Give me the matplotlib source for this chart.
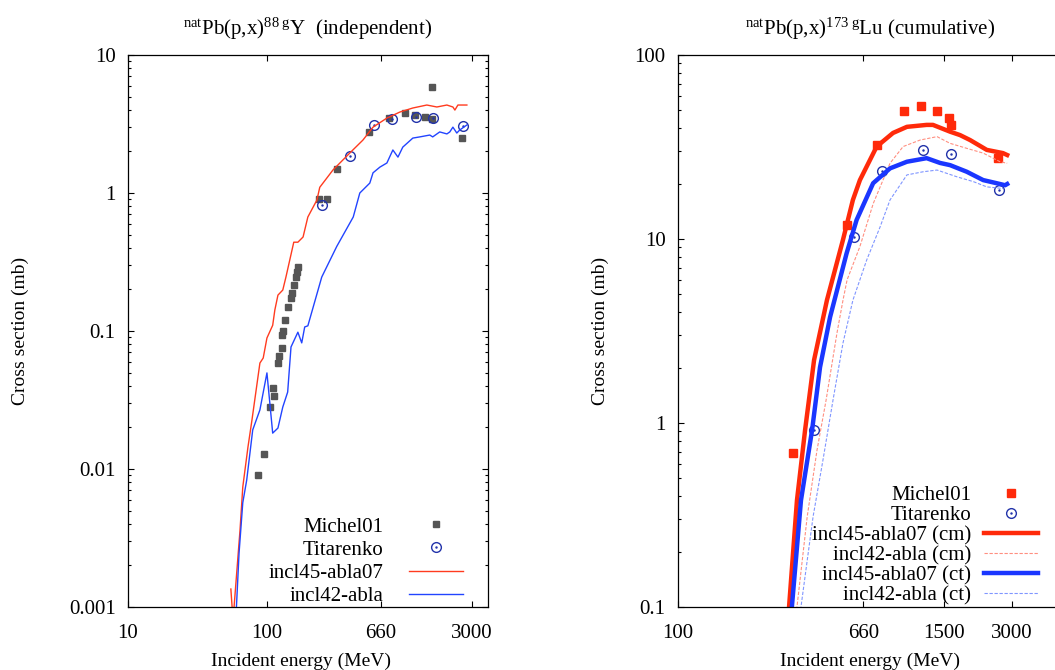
import matplotlib
matplotlib.use("Agg")
import matplotlib.pyplot as plt
from matplotlib.ticker import FixedLocator, FixedFormatter, NullLocator, LogLocator

plt.rcParams['font.family'] = 'Liberation Serif'
plt.rcParams['mathtext.fontset'] = 'custom'
plt.rcParams['mathtext.rm'] = 'Liberation Serif'
plt.rcParams['mathtext.it'] = 'Liberation Serif:italic'

#### LEFT PANEL DATA: natPb(p,x)88gY (independent)
michel_E_L = [86, 95, 105, 110, 112, 120, 122, 128, 128, 130, 135, 141, 149, 151, 156, 161, 164, 167,
              236, 270, 317, 541, 755, 982, 1160, 1370, 1540, 1540, 2530]
michel_v_L = [0.0090, 0.0129, 0.0281, 0.0386, 0.0338, 0.0586, 0.066, 0.075, 0.094, 0.10, 0.12, 0.149,
              0.173, 0.188, 0.215, 0.246, 0.268, 0.29, 0.906, 0.906, 1.49, 2.77, 3.49, 3.8, 3.67, 3.55,
              3.44, 5.86, 2.5]
tit_E_L = [249, 395, 589, 793, 1180, 1565, 2570]
tit_v_L = [0.82, 1.85, 3.11, 3.44, 3.55, 3.49, 3.06]

incl45_E_L = [55, 57, 64, 67, 73, 78, 89, 94, 100, 110, 114, 120, 130, 137, 156, 167, 182, 197, 229,
              240, 299, 395, 491, 580, 730, 905, 1122, 1415, 1671, 1973, 2180, 2253, 2368, 2748]
incl45_v_L = [0.00135, 0.0008, 0.0036, 0.0074, 0.0144, 0.0226, 0.0586, 0.0637, 0.089, 0.110, 0.142,
              0.182, 0.198, 0.246, 0.44, 0.44, 0.48, 0.67, 0.89, 1.10, 1.47, 1.95, 2.42, 3.0, 3.49,
              3.86, 4.13, 4.34, 4.2, 4.34, 4.2, 3.99, 4.34, 4.34]
incl42_E_L = [60, 63, 67, 71.5, 79, 89, 100, 110, 120, 130, 141, 149, 167, 178, 187, 197, 248, 318,
              418, 466, 550, 580, 650, 730, 806, 877, 950, 1122, 1260, 1486, 1560, 1752, 1973, 2070,
              2180, 2325, 2440, 2748]
incl42_v_L = [0.0009, 0.00246, 0.0057, 0.0083, 0.0192, 0.0268, 0.0497, 0.0182, 0.0198, 0.0281, 0.0361,
              0.0766, 0.098, 0.082, 0.107, 0.109, 0.246, 0.41, 0.67, 1.0, 1.18, 1.40, 1.54, 1.65, 2.05,
              1.82, 2.15, 2.5, 2.55, 2.63, 2.55, 2.77, 2.68, 2.77, 3.0, 2.72, 2.86, 3.11]

#### RIGHT PANEL DATA: natPb(p,x)173gLu (cumulative)
michel_E_R = [323, 560, 760, 1000, 1189, 1400, 1581, 1615, 2606]
michel_v_R = [0.687, 11.9, 32.4, 49.6, 52.8, 49.6, 45.5, 41.7, 27.5]
tit_E_R = [400, 601, 800, 1213, 1615, 2630]
tit_v_R = [0.916, 10.3, 23.5, 30.5, 29.0, 18.5]

incl45_cm_E = [305, 310, 336, 365, 400, 456, 537, 594, 638, 757, 894, 1030, 1259, 1343, 1599, 1770,
               1960, 2323, 2740, 2860]
incl45_cm_v = [0.076, 0.1, 0.38, 0.916, 2.2, 4.65, 9.9, 16.3, 20.9, 31.8, 37.7, 40.7, 41.7, 41.7, 38.3,
               36.7, 34.5, 30.5, 29.3, 28.6]
incl42_cm_E = [330, 336, 373, 412, 452, 505, 537, 560, 638, 731, 867, 991, 1178, 1400, 1599, 1895,
               2240, 2660, 2860]
incl42_cm_v = [0.08, 0.1, 0.31, 0.71, 1.33, 3.08, 4.65, 6.0, 9.1, 15.6, 25.8, 31.8, 34.5, 36.0, 33.1,
               31.1, 29.3, 26.3, 25.8]
incl45_ct_E = [314, 319, 350, 392, 425, 471, 557, 617, 730, 867, 1030, 1259, 1444, 1599, 1895, 2240,
               2570, 2800, 2860]
incl45_ct_v = [0.079, 0.1, 0.38, 0.916, 2.01, 3.77, 8.35, 12.7, 20.1, 24.2, 26.3, 27.5, 25.9, 25.2,
               23.2, 20.9, 20.1, 19.6, 19.9]
incl42_ct_E = [344, 350, 396, 438, 485, 537, 594, 684, 783, 867, 1030, 1216, 1400, 1710, 2027, 2323,
               2750]
incl42_ct_v = [0.08, 0.1, 0.31, 0.63, 1.33, 2.72, 4.65, 7.7, 11.6, 16.3, 22.3, 23.2, 23.7, 21.8, 20.5,
               19.2, 18.8]

red = '#ff2a0a'
blue = '#1a36ff'
gray = '#555555'
tit_col = '#2233aa'

fig = plt.figure(figsize=(10.55, 6.7), dpi=100)
ax1 = fig.add_axes([128 / 1055, 63 / 670, 360 / 1055, 552 / 670])
ax2 = fig.add_axes([678 / 1055, 63 / 670, 384 / 1055, 552 / 670])


def titarenko(ax, E, v):
    c, = ax.plot(E, v, 'o', ms=7, mfc='none', mec=tit_col, mew=1.0, ls='none')
    d, = ax.plot(E, v, '.', ms=1.5, color=tit_col, ls='none')
    return (c, d)


#### 1. LEFT PANEL
h1, = ax1.plot(michel_E_L, michel_v_L, 's', ms=5, color=gray, ls='none')
h2 = titarenko(ax1, tit_E_L, tit_v_L)
h3, = ax1.plot(incl45_E_L, incl45_v_L, color='#ff3b1f', lw=1.0)
h4, = ax1.plot(incl42_E_L, incl42_v_L, color='#2244ff', lw=1.0)

ax1.set_xscale('log')
ax1.set_yscale('log')
ax1.set_xlim(10, 3900)
ax1.set_ylim(0.001, 10)
ax1.xaxis.set_major_locator(FixedLocator([10, 100, 660, 3000]))
ax1.xaxis.set_major_formatter(FixedFormatter(['10', '100', '660', '3000']))
ax1.xaxis.set_minor_locator(NullLocator())
ax1.yaxis.set_major_locator(FixedLocator([0.001, 0.01, 0.1, 1, 10]))
ax1.yaxis.set_major_formatter(FixedFormatter(['0.001', '0.01', '0.1', '1', '10']))
ax1.yaxis.set_minor_locator(LogLocator(base=10, subs=range(2, 10)))
ax1.set_title(r'$^{\mathrm{nat}}$Pb(p,x)$^{88\ \mathrm{g}}$Y  (independent)', fontsize=15, y=1.036, pad=0)
ax1.set_xlabel('Incident energy (MeV)', fontsize=14)
ax1.set_ylabel('Cross section (mb)', fontsize=14)
ax1.xaxis.set_label_coords(0.48, -0.082)
ax1.yaxis.set_label_coords(-0.275, 0.5)
ax1.legend([h1, h2, h3, h4], ['Michel01', 'Titarenko', 'incl45-abla07', 'incl42-abla'],
           loc='lower right', bbox_to_anchor=(463 / 1055, 64 / 670), bbox_transform=fig.transFigure,
           frameon=False, markerfirst=False, fontsize=15, handlelength=2.6, handletextpad=1.2,
           labelspacing=0.17, borderpad=0, borderaxespad=0)

#### 2. RIGHT PANEL
g1, = ax2.plot(michel_E_R, michel_v_R, 's', ms=5.5, color=red, ls='none')
g2 = titarenko(ax2, tit_E_R, tit_v_R)
g3, = ax2.plot(incl45_cm_E, incl45_cm_v, color=red, lw=3.2)
g4, = ax2.plot(incl42_cm_E, incl42_cm_v, color='#ff8f80', lw=0.8, ls=(0, (3, 1.5)))
g5, = ax2.plot(incl45_ct_E, incl45_ct_v, color=blue, lw=3.2)
g6, = ax2.plot(incl42_ct_E, incl42_ct_v, color='#8096ff', lw=0.8, ls=(0, (3, 1.5)))

ax2.set_xscale('log')
ax2.set_yscale('log')
ax2.set_xlim(100, 5000)
ax2.set_ylim(0.1, 100)
ax2.xaxis.set_major_locator(FixedLocator([100, 660, 1500, 3000]))
ax2.xaxis.set_major_formatter(FixedFormatter(['100', '660', '1500', '3000']))
ax2.xaxis.set_minor_locator(NullLocator())
ax2.yaxis.set_major_locator(FixedLocator([0.1, 1, 10, 100]))
ax2.yaxis.set_major_formatter(FixedFormatter(['0.1', '1', '10', '100']))
ax2.yaxis.set_minor_locator(LogLocator(base=10, subs=range(2, 10)))
ax2.set_title(r'$^{\mathrm{nat}}$Pb(p,x)$^{173\ \mathrm{g}}$Lu (cumulative)', fontsize=15, y=1.036, pad=0)
ax2.set_xlabel('Incident energy (MeV)', fontsize=14)
ax2.set_ylabel('Cross section (mb)', fontsize=14)
ax2.xaxis.set_label_coords(0.5, -0.082)
ax2.yaxis.set_label_coords(-0.18, 0.5)
ax2.legend([g1, g2, g3, g4, g5, g6],
           ['Michel01', 'Titarenko', 'incl45-abla07 (cm)', 'incl42-abla (cm)',
            'incl45-abla07 (ct)', 'incl42-abla (ct)'],
           loc='lower right', bbox_to_anchor=(1038 / 1055, 65 / 670), bbox_transform=fig.transFigure,
           frameon=False, markerfirst=False, fontsize=15, handlelength=2.6, handletextpad=0.6,
           labelspacing=0.02, borderpad=0, borderaxespad=0)

for ax in (ax1, ax2):
    ax.tick_params(which='both', direction='in', top=True, right=True, labelsize=15, width=0.8)
    ax.tick_params(which='major', length=4, pad=9)
    ax.tick_params(axis='x', which='major', pad=12)
    ax.tick_params(which='minor', length=2)
    for s in ax.spines.values():
        s.set_linewidth(0.9)

fig.savefig('out.png', dpi=100)
